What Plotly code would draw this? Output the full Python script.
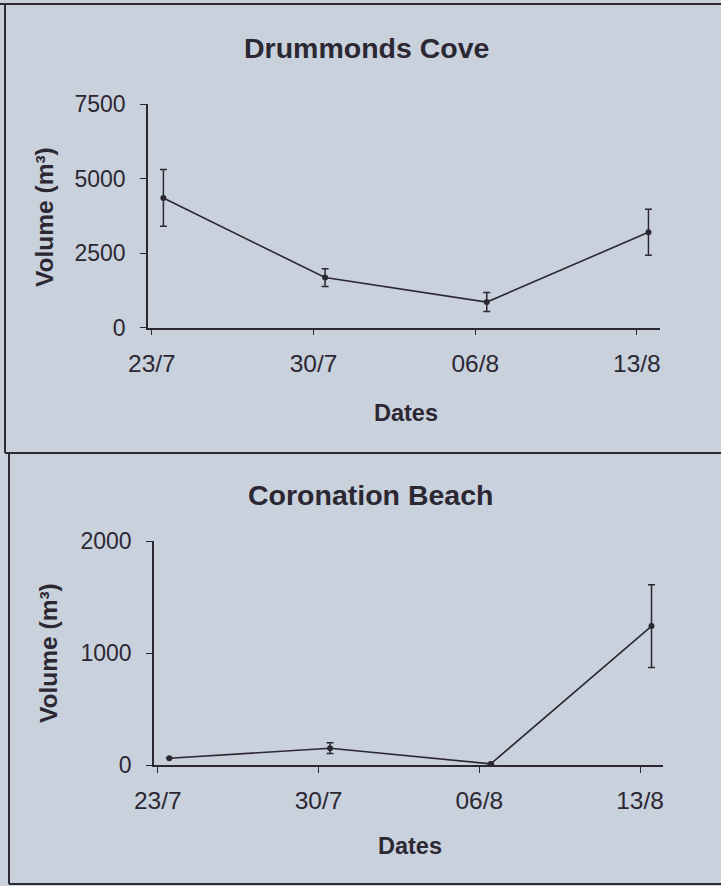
import plotly.graph_objects as go

# ---- data ----
dates = ["2004-07-23 12:00", "2004-07-30 12:00", "2004-08-06 12:00", "2004-08-13 12:00"]
tick_dates = ["2004-07-23", "2004-07-30", "2004-08-06", "2004-08-13"]
tick_labels = ["23/7", "30/7", "06/8", "13/8"]

drummonds_volume = [4350, 1680, 860, 3200]
drummonds_error = [950, 300, 320, 770]

coronation_volume = [60, 150, 10, 1240]
coronation_error = [None, 48, None, 370]

BG = "#c9d1dd"
INK = "#2c2833"
FONT = "Liberation Sans, Arial, sans-serif"

W, H = 721, 886


def px_x(p):
    return p / W


def px_y(p):
    return 1 - p / H


fig = go.Figure()

for vals, errs, xa, ya in [
    (drummonds_volume, drummonds_error, "x", "y"),
    (coronation_volume, coronation_error, "x2", "y2"),
]:
    fig.add_trace(go.Scatter(
        x=dates, y=vals, xaxis=xa, yaxis=ya,
        mode="lines+markers",
        line=dict(color=INK, width=1.6),
        marker=dict(color=INK, size=6),
        error_y=dict(type="data", array=errs, visible=True,
                     color=INK, thickness=1.5, width=3.5),
        showlegend=False, cliponaxis=False,
    ))

xrange = ["2004-07-22 20:00", "2004-08-14 00:00"]

common_x = dict(
    type="date", range=xrange, tickmode="array", tickvals=tick_dates, ticktext=tick_labels,
    showgrid=False, zeroline=False, showline=True, linecolor=INK, linewidth=1.5,
    ticks="outside", ticklen=6, tickwidth=1.3, tickcolor=INK, automargin=False,
    tickfont=dict(family=FONT, size=24.5, color=INK), ticklabelstandoff=7,
)
common_y = dict(
    showgrid=False, zeroline=False, showline=True, linecolor=INK, linewidth=1.5,
    ticks="outside", ticklen=6, tickwidth=1.3, tickcolor=INK, automargin=False,
    tickfont=dict(family=FONT, size=23, color=INK), ticklabelstandoff=10,
)

fig.update_layout(
    width=W, height=H,
    margin=dict(l=0, r=0, t=0, b=0, pad=0, autoexpand=False),
    paper_bgcolor=BG, plot_bgcolor=BG,
    font=dict(family=FONT, color=INK),
    xaxis=dict(domain=[px_x(148), px_x(660)], anchor="y", **common_x),
    yaxis=dict(domain=[px_y(327.7), px_y(104)], anchor="x", range=[0, 7500],
               tickvals=[0, 2500, 5000, 7500], **common_y),
    xaxis2=dict(domain=[px_x(154), px_x(663)], anchor="y2", **common_x),
    yaxis2=dict(domain=[px_y(765), px_y(541)], anchor="x2", range=[0, 2000],
                tickvals=[0, 1000, 2000], **common_y),
)

# titles and axis titles as annotations
ann = [
    ("Drummonds Cove", 366, 48, 28.5, 0),
    ("Dates", 406, 413, 23.5, 0),
    ("Volume (m³)", 44, 217, 24.5, -90),
    ("Coronation Beach", 370, 495, 28.5, 0),
    ("Dates", 410, 846, 23.5, 0),
    ("Volume (m³)", 48, 653, 24.5, -90),
]
for text, x, y, size, ang in ann:
    fig.add_annotation(
        text=text, x=px_x(x), y=px_y(y), xref="paper", yref="paper",
        showarrow=False, textangle=ang, xanchor="center", yanchor="middle",
        font=dict(family=FONT, size=size, color=INK, weight="bold"),
    )

# panel frame lines
frame = dict(color="#2e2a35", width=2)
fig.add_shape(type="line", xref="paper", yref="paper",
              x0=0, x1=1, y0=px_y(4), y1=px_y(4), line=frame)
fig.add_shape(type="line", xref="paper", yref="paper",
              x0=px_x(5), x1=px_x(5), y0=px_y(4), y1=px_y(453), line=frame)
fig.add_shape(type="line", xref="paper", yref="paper",
              x0=px_x(5), x1=1, y0=px_y(453), y1=px_y(453), line=frame)
fig.add_shape(type="line", xref="paper", yref="paper",
              x0=px_x(9), x1=px_x(9), y0=px_y(453), y1=px_y(884), line=frame)
fig.add_shape(type="line", xref="paper", yref="paper",
              x0=px_x(9), x1=1, y0=px_y(884), y1=px_y(884), line=frame)

fig.write_html(
    "out.html",
    config={"displayModeBar": False},
    post_script="document.body.style.margin='0';document.body.style.overflow='hidden';",
)
